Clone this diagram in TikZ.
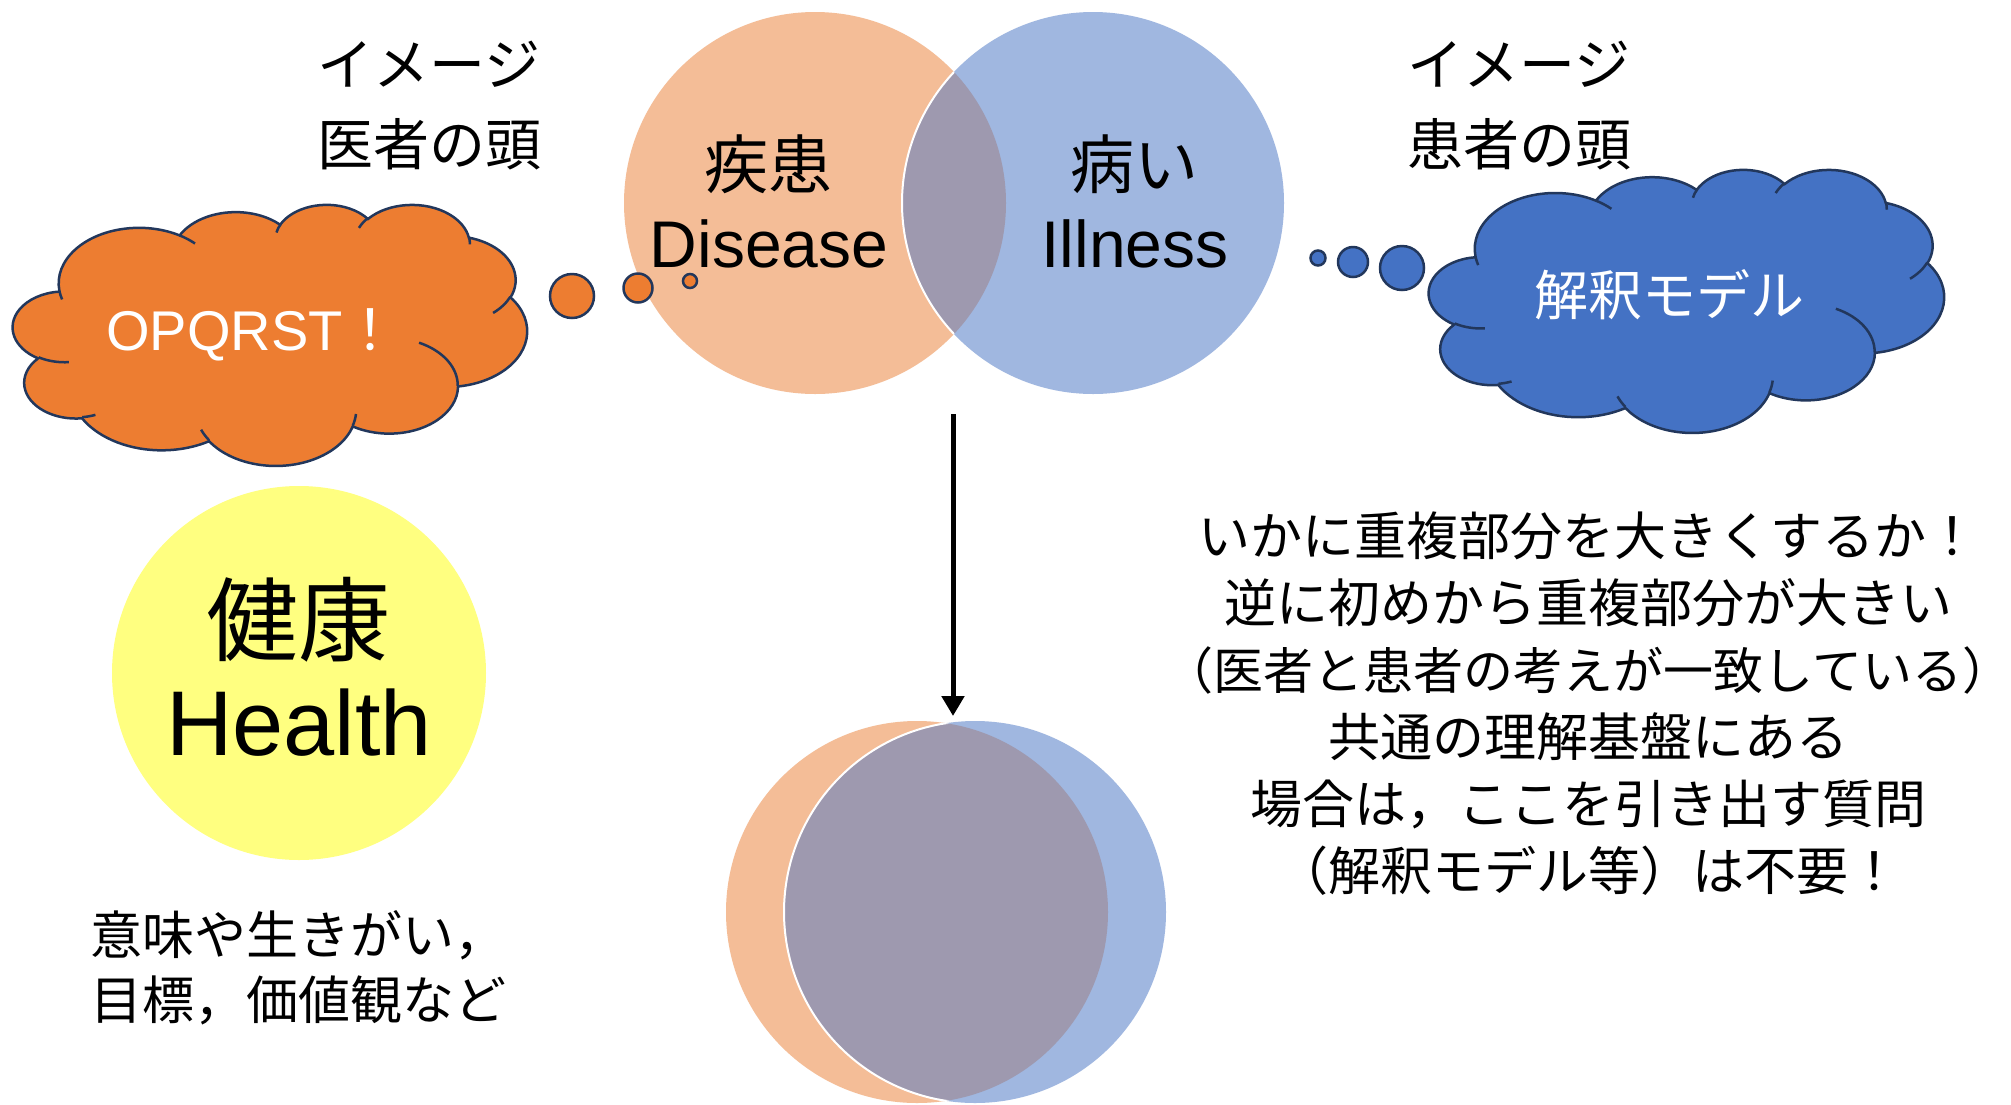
\documentclass[tikz,border=0pt]{standalone}
\usepackage{fontspec}
\setmainfont{Liberation Sans}
\newfontfamily\jp{Noto Sans CJK JP}
\usetikzlibrary{arrows.meta}
\definecolor{venno}{HTML}{F4BD97}
\definecolor{vennb}{HTML}{A0B7E0}
\definecolor{vennx}{HTML}{9E99AF}
\definecolor{cloudo}{HTML}{ED7D31}
\definecolor{cloudb}{HTML}{4472C4}
\definecolor{cloudline}{HTML}{22375C}
\definecolor{yel}{HTML}{FFFF80}
\tikzset{
  carc/.style n args={4}{x radius=#1, y radius=#2,
    start angle={atan2(#1*sin(#3),#2*cos(#3))},
    delta angle={mod(atan2(#1*sin(#3+#4),#2*cos(#3+#4))-atan2(#1*sin(#3),#2*cos(#3))+720,360)}},
  cloudO/.style={fill=cloudo, draw=cloudline, line width=2.5pt},
  cloudB/.style={fill=cloudb, draw=cloudline, line width=2.5pt},
  jptext/.style={inner sep=0pt, font=\jp\fontsize{#1}{#1}\selectfont},
  entext/.style={inner sep=0pt, font=\fontsize{#1}{#1}\selectfont},
}
\newcommand\cloudbody[1]{%
\filldraw[#1] (39.00,143.70)
 arc[carc={67.53}{91.90}{-190.4875}{123.7805}]
 arc[carc={53.33}{72.67}{-144.1024}{89.9452}]
 arc[carc={43.65}{59.45}{-145.8079}{99.7230}]
 arc[carc={48.57}{65.95}{-130.9861}{117.2417}]
 arc[carc={53.33}{72.73}{-78.7089}{109.0269}]
 arc[carc={67.75}{92.20}{-46.2673}{130.2690}]
 arc[carc={57.85}{78.67}{0.6250}{114.0333}]
 arc[carc={67.52}{92.15}{22.4516}{115.1726}]
 arc[carc={77.20}{105.43}{66.2426}{75.7110}]
 arc[carc={43.60}{59.18}{-274.9421}{146.7356}]
 arc[carc={43.45}{59.45}{-246.8285}{152.5189}]
 -- cycle;
\draw[#1,fill=none]
 (46.93,261.77) arc[carc={43.45}{59.45}{86.7420}{26.4295}]
 (69.28,348.99) arc[carc={43.60}{59.18}{73.6105}{11.4475}]
 (164.78,390.90) arc[carc={67.52}{92.15}{137.6242}{14.0811}]
 (288.27,347.51) arc[carc={67.52}{92.15}{6.4533}{15.9984}]
 (341.29,229.54) arc[carc={57.85}{78.67}{-70.2924}{70.9174}]
 (417.98,153.54) arc[carc={53.33}{72.73}{30.3180}{27.7515}]
 (383.24,54.26) arc[carc={48.57}{65.95}{-13.7443}{14.8589}]
 (290.78,39.52) arc[carc={48.57}{65.95}{-149.1815}{18.1954}]
 (221.41,47.20) arc[carc={43.65}{59.45}{-163.4943}{17.6864}]
 (140.00,51.92) arc[carc={67.53}{91.90}{-66.7070}{12.3194}]
 (41.27,157.89) arc[carc={67.53}{91.90}{157.6544}{11.8582}];
}
\begin{document}
\begin{tikzpicture}[x=1pt,y=-1pt]
\useasboundingbox (0,0) rectangle (2011,1104);
\fill[white] (0,0) rectangle (2011,1104);
% top Venn
\fill[venno] (815,203) circle[radius=191];
\fill[vennb] (1093,203) circle[radius=191];
\begin{scope}
  \clip (815,203) circle[radius=191];
  \fill[vennx] (1093,203) circle[radius=191];
  \draw[white, line width=2pt] (1093,203) circle[radius=191];
\end{scope}
% bottom Venn
\fill[venno] (917,912) circle[radius=191];
\fill[vennb] (975,912) circle[radius=191];
\begin{scope}
  \clip (917,912) circle[radius=191];
  \fill[vennx] (975,912) circle[radius=191];
  \draw[white, line width=2pt] (975,912) circle[radius=191];
\end{scope}
% clouds
\begin{scope}[shift={(13,204)}, x=1.18981pt, y=-0.604167pt]
  \cloudbody{cloudO}
\end{scope}
\begin{scope}[shift={(1429,169)}, x=1.19213pt, y=-0.608796pt]
  \cloudbody{cloudB}
\end{scope}
% bubbles
\draw[cloudO] (572,296) circle[x radius=22, y radius=22];
\draw[cloudO] (638,288) circle[radius=14.5];
\draw[cloudO] (690,281) circle[radius=7];
\draw[cloudB] (1318,258) circle[radius=7.5];
\draw[cloudB] (1353,262) circle[radius=15];
\draw[cloudB] (1402,268) circle[x radius=22, y radius=22];
% yellow circle
\node[circle, fill=yel, minimum size=374pt, inner sep=0pt] (health) at (299,673) {};
% arrow
\coordinate (arrtop) at (953,414);
\coordinate (arrtip) at (953,716);
\draw[line width=5pt, -{Triangle[width=22pt,length=20pt]}] (arrtop) -- (arrtip);
% texts
\node[jptext=56] (imgL) at (429,64) {イメージ};
\node[jptext=56] (headL) at (429,144) {医者の頭};
\node[jptext=56] (imgR) at (1519,64) {イメージ};
\node[jptext=56] (headR) at (1519,144) {患者の頭};
\node[jptext=64] (disJ) at (768,164) {疾患};
\node[entext=66, anchor=base] (disE) at (769,267) {Disease};
\node[jptext=64] (illJ) at (1134,164) {病い};
\node[entext=66, anchor=base] (illE) at (1135,267) {Illness};
\node[entext=56, anchor=base west, text=white] (opq) at (106,350) {OPQRST{\jp ！}};
\node[jptext=54, text=white] (kai) at (1669,295) {解釈モデル};
\node[jptext=92] (kenJ) at (298,620) {健康};
\node[entext=92, anchor=base] (kenE) at (299,755) {Health};
\node[inner sep=0pt, anchor=west, align=left, font=\jp\fontsize{52}{65}\selectfont] (meaning) at (90,968) {意味や生きがい，\\目標，価値観など};
\node[inner sep=0pt, align=center, font=\jp\fontsize{52}{67}\selectfont] (block) at (1588,704) {いかに重複部分を大きくするか！\\逆に初めから重複部分が大きい\\{\fontsize{50}{67}\selectfont （医者と患者の考えが一致している）}\\共通の理解基盤にある\\場合は，ここを引き出す質問\\（解釈モデル等）は不要！};
\end{tikzpicture}
\end{document}
